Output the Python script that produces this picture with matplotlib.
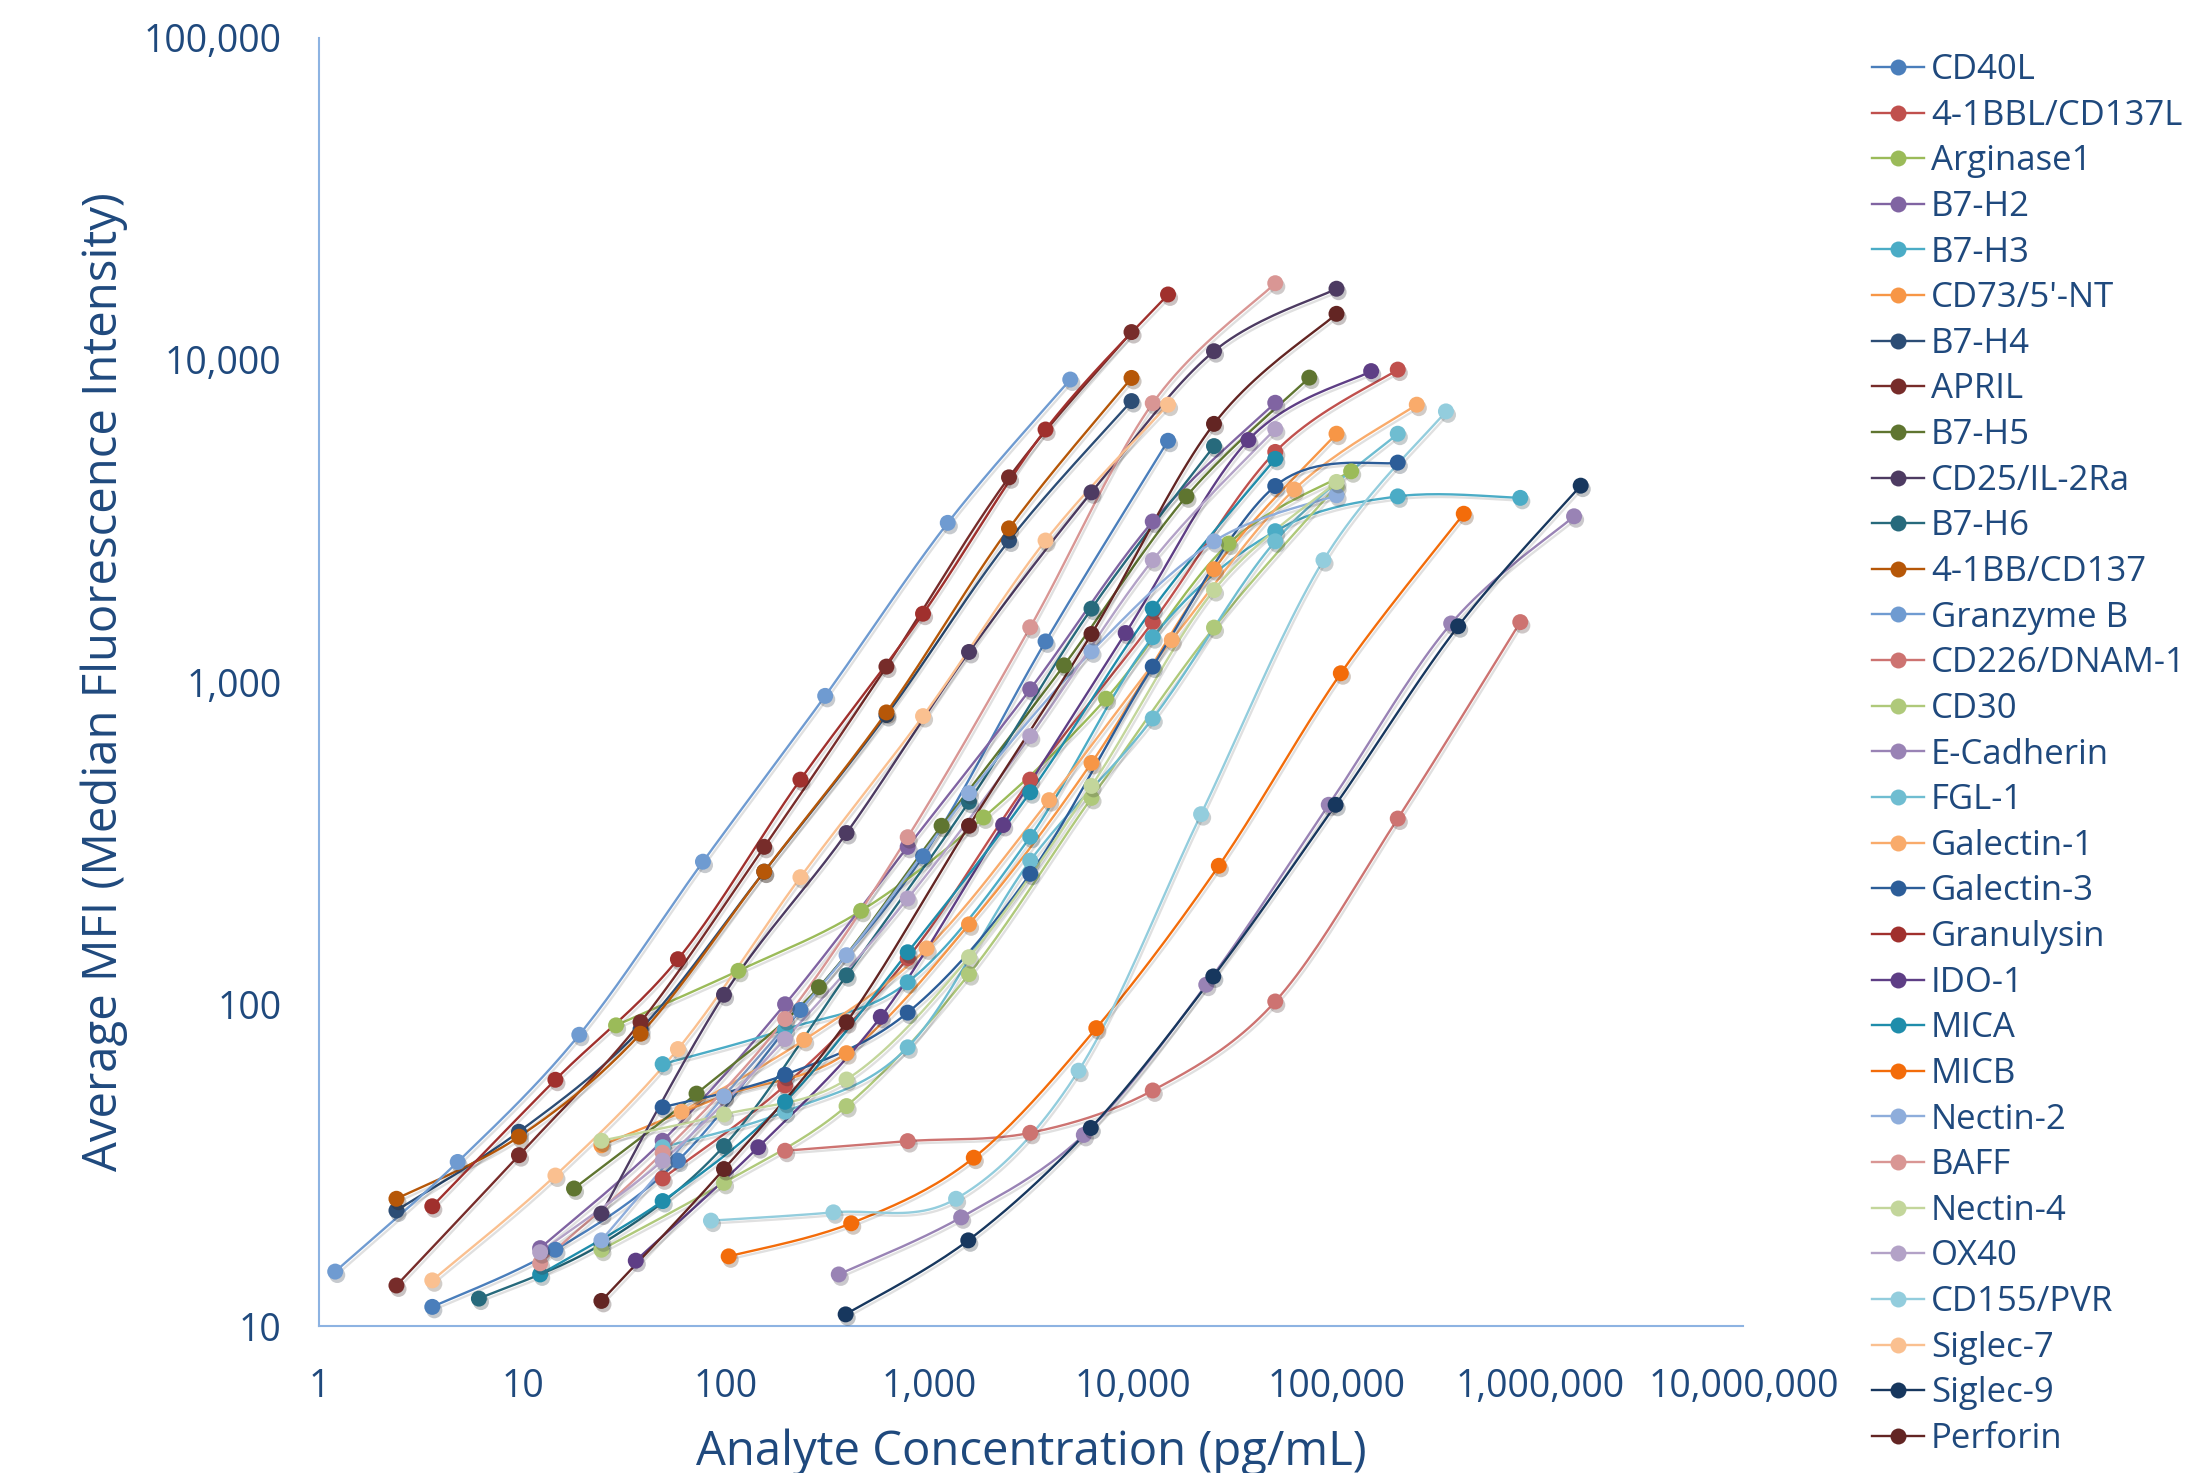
import numpy as np
import matplotlib
matplotlib.use("Agg")
import matplotlib.pyplot as plt
import matplotlib.patheffects as pe
from matplotlib.lines import Line2D
from matplotlib.ticker import FixedLocator, NullLocator

plt.rcParams["font.family"] = ["Open Sans", "DejaVu Sans"]

# ---- data (pg/mL, MFI) ----
cd40l_x = [3.6, 14.5, 58, 232, 929, 3716, 14860]
cd40l_y = [11.5, 17.3, 32.7, 96, 288, 1337, 5610]
bbl_x = [48.8, 195, 781, 3125, 12500, 50000, 200000]
bbl_y = [28.8, 56, 139, 498, 1535, 5180, 9330]
arg_x = [28.8, 115, 461, 1843, 7370, 29500, 118000]
arg_y = [86, 127, 195, 380, 888, 2690, 4510]
h2_x = [12.2, 48.8, 195, 781, 3125, 12500, 50000]
h2_y = [17.5, 37.7, 100, 308, 950, 3150, 7360]
h3_x = [48.8, 195, 781, 3125, 12500, 50000, 200000, 800000]
h3_y = [65.2, 83.6, 117, 331, 1378, 2940, 3770, 3730]
cd73_x = [24.4, 97.7, 391, 1563, 6250, 25000, 100000]
cd73_y = [36.5, 52, 70.5, 177, 561, 2240, 5900]
h4_x = [2.4, 9.6, 38, 154, 614, 2458, 9830]
h4_y = [22.9, 40.2, 83.6, 258, 790, 2750, 7450]
april_x = [2.4, 9.6, 38, 154, 614, 2458, 9830]
april_y = [13.4, 34, 88, 308, 1117, 4320, 12200]
h5_x = [17.9, 71.6, 286, 1146, 4580, 18300, 73500]
h5_y = [26.8, 52.8, 113, 358, 1127, 3770, 8810]
cd25_x = [24.4, 97.7, 391, 1563, 6250, 25000, 100000]
cd25_y = [22.4, 107, 340, 1240, 3880, 10640, 16630]
h6_x = [6.1, 24.4, 97.7, 391, 1563, 6250, 25000]
h6_y = [12.2, 18, 36.3, 123, 425, 1690, 5400]
bb_x = [2.4, 9.6, 38, 154, 614, 2458, 9830]
bb_y = [24.9, 38.8, 81, 258, 805, 3000, 8790]
gzb_x = [1.2, 4.8, 19, 77, 307, 1229, 4915]
gzb_y = [14.8, 32.4, 80.4, 277, 906, 3120, 8690]
cd226_x = [195, 781, 3125, 12500, 50000, 200000, 800000]
cd226_y = [35.1, 37.6, 39.9, 54, 102, 377, 1535]
cd30_x = [24.4, 97.7, 391, 1563, 6250, 25000, 100000]
cd30_y = [17.3, 27.9, 48.3, 124, 437, 1476, 4050]
ecad_x = [358, 1430, 5730, 22900, 91600, 366000, 1470000]
ecad_y = [14.5, 21.8, 39.3, 115, 416, 1520, 3270]
fgl_x = [48.8, 195, 781, 3125, 12500, 50000, 200000]
fgl_y = [36, 46.4, 73.5, 279, 771, 2735, 5900]
gal1_x = [60.5, 242, 968, 3870, 15500, 62000, 248000]
gal1_y = [46.4, 77.5, 149, 430, 1350, 3960, 7260]
gal3_x = [48.8, 195, 781, 3125, 12500, 50000, 200000]
gal3_y = [47.9, 60.4, 94.2, 254, 1117, 4060, 4800]
gnly_x = [3.6, 14.5, 58, 232, 929, 3716, 14860]
gnly_y = [23.6, 58.3, 138, 498, 1630, 6080, 15960]
ido_x = [36, 144, 576, 2300, 9200, 36900, 148000]
ido_y = [16, 36, 91.4, 360, 1420, 5640, 9230]
mica_x = [12.2, 48.8, 195, 781, 3125, 12500, 50000]
mica_y = [14.5, 24.5, 49.8, 145, 455, 1690, 4930]
micb_x = [103, 412, 1650, 6600, 26400, 105000, 422000]
micb_y = [16.5, 20.9, 33.4, 84.3, 269, 1065, 3330]
nec2_x = [24.4, 97.7, 391, 1563, 6250, 25000, 100000]
nec2_y = [18.5, 51.8, 142, 452, 1245, 2735, 3800]
baff_x = [12.2, 48.8, 195, 781, 3125, 12500, 50000]
baff_y = [15.7, 34.6, 90, 330, 1480, 7340, 17300]
nec4_x = [24.4, 97.7, 391, 1563, 6250, 25000, 100000]
nec4_y = [37.7, 45.5, 58.4, 140, 476, 1930, 4180]
ox40_x = [12.2, 48.8, 195, 781, 3125, 12500, 50000]
ox40_y = [17, 32.7, 78, 213, 680, 2390, 6100]
pvr_x = [84.3, 337, 1350, 5400, 21600, 86300, 345000]
pvr_y = [21.3, 22.6, 24.9, 62.2, 389, 2390, 6920]
sig7_x = [3.6, 14.5, 58, 232, 929, 3716, 14860]
sig7_y = [13.9, 29.4, 72.6, 248, 784, 2750, 7260]
sig9_x = [387, 1550, 6200, 24800, 99000, 396000, 1585000]
sig9_y = [10.9, 18.5, 41.3, 122, 416, 1490, 4070]
perf_x = [24.4, 97.7, 391, 1563, 6250, 25000, 100000]
perf_y = [12.0, 30.8, 88, 358, 1410, 6330, 13900]

labels = ["CD40L", "4-1BBL/CD137L", "Arginase1", "B7-H2", "B7-H3", "CD73/5'-NT",
          "B7-H4", "APRIL", "B7-H5", "CD25/IL-2Ra", "B7-H6", "4-1BB/CD137",
          "Granzyme B", "CD226/DNAM-1", "CD30", "E-Cadherin", "FGL-1", "Galectin-1",
          "Galectin-3", "Granulysin", "IDO-1", "MICA", "MICB", "Nectin-2", "BAFF",
          "Nectin-4", "OX40", "CD155/PVR", "Siglec-7", "Siglec-9", "Perforin"]
xs = [cd40l_x, bbl_x, arg_x, h2_x, h3_x, cd73_x, h4_x, april_x, h5_x, cd25_x, h6_x,
      bb_x, gzb_x, cd226_x, cd30_x, ecad_x, fgl_x, gal1_x, gal3_x, gnly_x, ido_x,
      mica_x, micb_x, nec2_x, baff_x, nec4_x, ox40_x, pvr_x, sig7_x, sig9_x, perf_x]
ys = [cd40l_y, bbl_y, arg_y, h2_y, h3_y, cd73_y, h4_y, april_y, h5_y, cd25_y, h6_y,
      bb_y, gzb_y, cd226_y, cd30_y, ecad_y, fgl_y, gal1_y, gal3_y, gnly_y, ido_y,
      mica_y, micb_y, nec2_y, baff_y, nec4_y, ox40_y, pvr_y, sig7_y, sig9_y, perf_y]
colors = ["#4A7EBB", "#C0504D", "#9BBB59", "#8064A2", "#4BACC6", "#F79646",
          "#2C4D75", "#772C2A", "#5F7530", "#4D3B62", "#276A7C", "#B65708",
          "#6F9BD1", "#CD7371", "#AFC97A", "#9983B5", "#6FBDD1", "#F9AB6B",
          "#2C5D98", "#A0302D", "#5E3E85", "#1F8DAB", "#F36C0A", "#8EADDB",
          "#D99694", "#C3D69B", "#B3A2C7", "#93CDDD", "#FAC090", "#17375E",
          "#632523"]

text_color = "#1F497D"
axis_color = "#8DB3E2"


def smooth(x, y, steps=24):
    # Catmull-Rom style bezier through the points in log-log space
    p = np.column_stack([np.log10(x), np.log10(y)])
    ext = np.vstack([p[0], p, p[-1]])
    t = np.linspace(0, 1, steps)[:, None]
    out = []
    for i in range(len(p) - 1):
        p0, p1, p2, p3 = ext[i], ext[i + 1], ext[i + 2], ext[i + 3]
        c1 = p1 + (p2 - p0) / 6
        c2 = p2 - (p3 - p1) / 6
        seg = (1 - t) ** 3 * p1 + 3 * (1 - t) ** 2 * t * c1 + 3 * (1 - t) * t ** 2 * c2 + t ** 3 * p2
        out.append(seg if i == 0 else seg[1:])
    s = np.vstack(out)
    return 10 ** s[:, 0], 10 ** s[:, 1]


fig = plt.figure(figsize=(21.87, 14.73), dpi=100)
ax = fig.add_axes([0.1459, 0.0995, 0.6513, 0.8749])

line_fx = [pe.SimpleLineShadow(offset=(1.5, -2), alpha=0.12), pe.Normal()]
dot_fx = [pe.SimplePatchShadow(offset=(1.5, -2.5), alpha=0.25), pe.Normal()]

handles = []
for i, (lab, x, y, c) in enumerate(zip(labels, xs, ys, colors)):
    sx, sy = smooth(x, y)
    ax.plot(sx, sy, color=c, lw=1.7, zorder=2 + i * 0.01, path_effects=line_fx,
            solid_capstyle="round")
    ax.plot(x, y, "o", color=c, ms=11.5, mec=c, mew=0, zorder=3 + i * 0.01,
            path_effects=dot_fx)
    handles.append(Line2D([], [], color=c, lw=1.7, marker="o", ms=11.5, mew=0))

ax.set_xscale("log")
ax.set_yscale("log")
ax.set_xlim(1, 1e7)
ax.set_ylim(10, 1e5)

xt = [1, 10, 100, 1000, 1e4, 1e5, 1e6, 1e7]
yt = [10, 100, 1000, 1e4, 1e5]
ax.xaxis.set_major_locator(FixedLocator(xt))
ax.yaxis.set_major_locator(FixedLocator(yt))
ax.xaxis.set_minor_locator(NullLocator())
ax.yaxis.set_minor_locator(NullLocator())
ax.set_xticklabels([f"{int(v):,}" for v in xt])
ax.set_yticklabels([f"{int(v):,}" for v in yt])
ax.tick_params(axis="both", length=0, labelsize=27, labelcolor=text_color)
ax.tick_params(axis="y", pad=27)
ax.tick_params(axis="x", pad=30)

for s in ["top", "right"]:
    ax.spines[s].set_visible(False)
for s in ["left", "bottom"]:
    ax.spines[s].set_color(axis_color)
    ax.spines[s].set_linewidth(1.5)

ax.set_xlabel("Analyte Concentration (pg/mL)", fontsize=34, color=text_color)
ax.set_ylabel("Average MFI (Median Fluorescence Intensity)", fontsize=34,
              color=text_color)
ax.xaxis.set_label_coords(0.5, -0.079)
ax.yaxis.set_label_coords(-0.134, 0.5)

fig.legend(handles, labels, loc="upper left", bbox_to_anchor=(0.856, 0.964),
           frameon=False, fontsize=25, labelcolor=text_color, handlelength=1.5,
           handletextpad=0.2, labelspacing=0.335, borderpad=0, borderaxespad=0)

fig.savefig("out.png", dpi=100, facecolor="white")
